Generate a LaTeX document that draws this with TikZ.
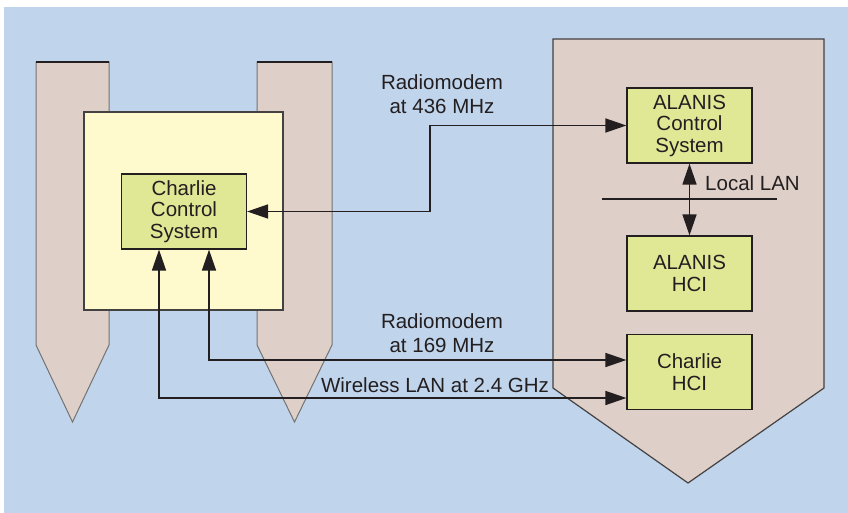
\documentclass[tikz,border=0pt]{standalone}
\usepackage{fontspec}
\setmainfont{Liberation Sans}
\usetikzlibrary{arrows.meta}
\definecolor{bgblue}{RGB}{192,212,236}
\definecolor{postfill}{RGB}{222,208,200}
\definecolor{yelfill}{RGB}{255,250,205}
\definecolor{grnfill}{RGB}{224,232,150}
\definecolor{ink}{RGB}{35,31,32}
\tikzset{
  post/.style={fill=postfill,draw=black!55,line width=1pt,line join=miter},
  hull/.style={fill=postfill,draw=ink!85,line width=1.2pt,line join=miter},
  bigbox/.style={fill=yelfill,draw=ink!85,line width=1.2pt},
  sysbox/.style={draw=ink,line width=1.2pt,fill=grnfill,minimum width=125pt,minimum height=75pt,
    inner sep=0pt,align=center,text=ink,font=\fontsize{20.5}{21.5}\selectfont},
  lbl/.style={text=ink,align=center,inner sep=0pt,font=\fontsize{20.5}{24.5}\selectfont},
  link/.style={draw=ink,line width=1.6pt,{Triangle[length=21pt,width=14pt]}-{Triangle[length=21pt,width=14pt]}},
  plain/.style={draw=ink,line width=1.5pt}
}
\begin{document}
\begin{tikzpicture}[x=1pt,y=-1pt]
\useasboundingbox (0,0) rectangle (848,513);
\fill[bgblue] (4,7) rectangle (848,513);
% posts
\draw[post] (36,62) -- (109,62) -- (109,345) -- (72.5,422) -- (36,345) -- cycle;
\draw[post] (257,62) -- (332,62) -- (332,345) -- (294.5,422) -- (257,345) -- cycle;
\draw[draw=ink,line width=1.2pt] (36,62) -- (109,62);
\draw[draw=ink,line width=1.2pt] (257,62) -- (332,62);
% yellow box
\draw[bigbox] (84,112) rectangle (283,310);
% right hull
\draw[hull] (553,39) -- (824,39) -- (824,388) -- (688,483) -- (553,388) -- cycle;
% boxes
\node[sysbox] (ccs) at (184,211.5) {Charlie\\Control\\System};
\node[sysbox] (acs) at (689.5,125.5) {ALANIS\\Control\\System};
\node[sysbox] (ahci) at (689.5,273.5) {ALANIS\\HCI};
\node[sysbox] (chci) at (689.5,372) {Charlie\\HCI};
% local LAN
\coordinate (lanA) at (602,199);
\coordinate (lanB) at (777,199);
\draw[plain] (lanA) -- (lanB);
\draw[link] (acs) -- (ahci);
\node[lbl,anchor=west] (lanlbl) at (705,183) {Local LAN};
% connectors
\coordinate (k436) at (430,0);
\draw[link] (ccs.east) -- (ccs.east -| k436) |- (acs.west);
\draw[link] ([xshift=25pt]ccs.south) |- ([yshift=12pt]chci.west);
\draw[link] ([xshift=-25pt]ccs.south) |- ([yshift=-26pt]chci.west);
% labels
\node[lbl] (l436) at (442,94) {Radiomodem\\at 436 MHz};
\node[lbl] (l169) at (442,333) {Radiomodem\\at 169 MHz};
\node[lbl] (lwl) at (435,385) {Wireless LAN at 2.4 GHz};
\end{tikzpicture}
\end{document}
